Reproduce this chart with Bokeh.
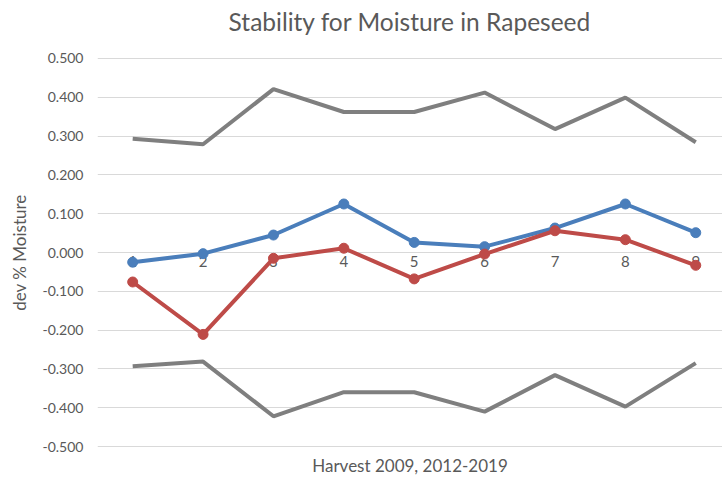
from bokeh.plotting import figure
from bokeh.models import Range1d, FixedTicker, NumeralTickFormatter, ColumnDataSource, Title
from bokeh.core.properties import value
from bokeh.embed import file_html
from bokeh.resources import INLINE

harvest = [1, 2, 3, 4, 5, 6, 7, 8, 9]
harvest_labels = ["1", "2", "3", "4", "5", "6", "7", "8", "9"]
series_blue = [-0.025, -0.003, 0.045, 0.125, 0.026, 0.015, 0.063, 0.125, 0.051]
series_red = [-0.076, -0.211, -0.015, 0.011, -0.068, -0.004, 0.056, 0.033, -0.033]
upper_limit = [0.293, 0.279, 0.421, 0.362, 0.362, 0.412, 0.318, 0.399, 0.284]
lower_limit = [-0.293, -0.281, -0.422, -0.360, -0.360, -0.410, -0.316, -0.397, -0.285]
y_ticks = [-0.5, -0.4, -0.3, -0.2, -0.1, 0.0, 0.1, 0.2, 0.3, 0.4, 0.5]

FONT = "Lato"
TXT = "#595959"

p = figure(width=722, height=484, output_backend="svg", toolbar_location=None,
           x_range=Range1d(0.5, 9.38), y_range=Range1d(-0.505, 0.505),
           min_border_left=97, min_border_right=0, min_border_top=56, min_border_bottom=36)
p.outline_line_color = None
p.background_fill_color = "white"
p.border_fill_color = "white"

# spacer between title and plot area
p.add_layout(Title(text=" ", text_font_size="2px", standoff=15), "above")
t = Title(text="Stability for Moisture in Rapeseed", align="center", offset=6,
          text_font=FONT, text_font_size="24.5px", text_font_style="normal",
          text_color=TXT, standoff=0, vertical_align="top")
p.add_layout(t, "above")

p.xgrid.grid_line_color = None
p.ygrid.grid_line_color = "#D9D9D9"
p.ygrid.grid_line_width = 1
p.yaxis.ticker = FixedTicker(ticks=y_ticks)
p.ygrid.ticker = FixedTicker(ticks=y_ticks)
p.yaxis.formatter = NumeralTickFormatter(format="0.000")
p.yaxis.axis_line_color = None
p.yaxis.major_tick_line_color = None
p.yaxis.minor_tick_line_color = None
p.yaxis.major_tick_out = 0
p.yaxis.major_label_standoff = 14
p.yaxis.major_label_text_font = FONT
p.yaxis.major_label_text_font_size = "14px"
p.yaxis.major_label_text_color = TXT
p.yaxis.axis_label = "dev % Moisture"
p.yaxis.axis_label_text_font = FONT
p.yaxis.axis_label_text_font_size = "17px"
p.yaxis.axis_label_text_font_style = "normal"
p.yaxis.axis_label_text_color = TXT
p.yaxis.axis_label_standoff = 10

p.xaxis.ticker = FixedTicker(ticks=[])
p.xaxis.axis_line_color = None
p.xaxis.major_tick_line_color = None
p.xaxis.minor_tick_line_color = None
p.xaxis.axis_label = "Harvest 2009, 2012-2019"
p.xaxis.axis_label_text_font = FONT
p.xaxis.axis_label_text_font_size = "17px"
p.xaxis.axis_label_text_font_style = "normal"
p.xaxis.axis_label_text_color = TXT
p.xaxis.axis_label_standoff = 6

# category labels along the zero line
lab = ColumnDataSource(dict(x=harvest, y=[0.0] * len(harvest), t=harvest_labels))
p.text(x="x", y="y", text="t", source=lab, text_align="center", text_baseline="top",
       y_offset=3, text_font=value(FONT), text_font_size="15px", text_color=TXT)

gray = "#7F7F7F"
p.line(harvest, upper_limit, line_color=gray, line_width=4)
p.line(harvest, lower_limit, line_color=gray, line_width=4)

blue = "#4A7EBB"
p.line(harvest, series_blue, line_color=blue, line_width=4)
p.scatter(harvest, series_blue, size=10, fill_color=blue, line_color=blue)

red = "#BE4B48"
p.line(harvest, series_red, line_color=red, line_width=4)
p.scatter(harvest, series_red, size=10, fill_color=red, line_color=red)

open("out.html", "w").write(file_html(p, INLINE))
